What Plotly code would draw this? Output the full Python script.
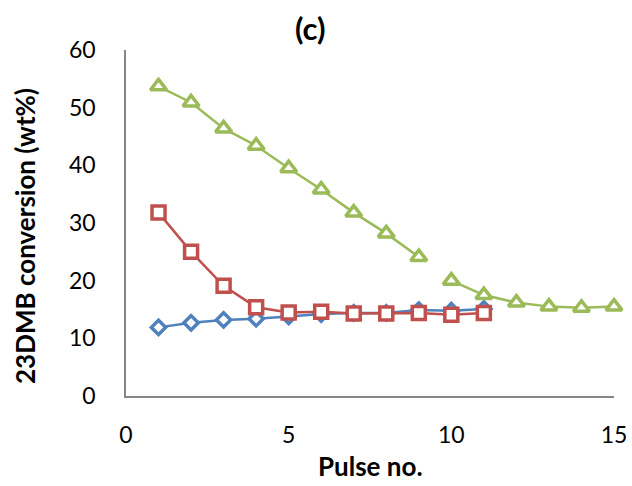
import plotly.graph_objects as go

pulses_blue = [1, 2, 3, 4, 5, 6, 7, 8, 9, 10, 11]
blue_vals = [11.9, 12.7, 13.2, 13.4, 13.8, 14.2, 14.4, 14.4, 14.9, 14.8, 15.1]

pulses_red = [1, 2, 3, 4, 5, 6, 7, 8, 9, 10, 11]
red_vals = [31.8, 25.0, 19.1, 15.4, 14.5, 14.6, 14.3, 14.3, 14.4, 14.1, 14.4]

pulses_green_a = [1, 2, 3, 4, 5, 6, 7, 8, 9]
green_vals_a = [53.7, 50.9, 46.4, 43.4, 39.5, 35.8, 31.8, 28.2, 24.1]
pulses_green_b = [10, 11, 12, 13, 14, 15]
green_vals_b = [20.0, 17.5, 16.2, 15.5, 15.3, 15.5]

x_ticks = [0, 5, 10, 15]
y_ticks = [0, 10, 20, 30, 40, 50, 60]

BLUE = "#4F81BD"
RED = "#C0504D"
GREEN = "#9BBB59"

fig = go.Figure()

def add(xs, ys, color, symbol, size):
    fig.add_trace(go.Scatter(
        x=xs, y=ys, mode="lines+markers",
        line=dict(color=color, width=2.5),
        marker=dict(symbol=symbol, size=size, color="white",
                    line=dict(color=color, width=3.5)),
        showlegend=False, cliponaxis=False))

add(pulses_blue, blue_vals, BLUE, "diamond", 11)
add(pulses_red, red_vals, RED, "square", 13)
add(pulses_green_a, green_vals_a, GREEN, "triangle-up", 14)
add(pulses_green_b, green_vals_b, GREEN, "triangle-up", 14)

FONT = "Lato, 'Open Sans', sans-serif"

fig.update_layout(
    width=632, height=486,
    margin=dict(l=126, r=18, t=50, b=90, autoexpand=False),
    paper_bgcolor="white", plot_bgcolor="white",
    font=dict(family=FONT, color="black"),
    xaxis=dict(range=[0, 15], tickvals=x_ticks, showgrid=False, zeroline=False,
               showline=True, linecolor="#868686", linewidth=1.5, automargin=False,
               ticks="", tickfont=dict(size=23), ticklabelstandoff=18),
    yaxis=dict(range=[0, 60], tickvals=y_ticks, showgrid=False, zeroline=False,
               showline=True, linecolor="#868686", linewidth=1.5, automargin=False,
               ticks="", tickfont=dict(size=23), ticklabelstandoff=24),
    annotations=[
        dict(text="<b>(c)</b>", x=(310 - 126) / 488, y=(396 - 28) / 346,
             xref="paper", yref="paper", showarrow=False,
             xanchor="center", yanchor="middle", font=dict(size=31)),
        dict(text="<b>Pulse no.</b>", x=0.5, y=(396 - 466) / 346,
             xref="paper", yref="paper", showarrow=False,
             xanchor="center", yanchor="middle", font=dict(size=26)),
        dict(text="<b>23DMB conversion (wt%)</b>", x=(25 - 126) / 488,
             y=(396 - 236) / 346, xref="paper", yref="paper", showarrow=False,
             textangle=-90, xanchor="center", yanchor="middle",
             font=dict(size=26)),
    ],
)

fig.write_html("out.html")
